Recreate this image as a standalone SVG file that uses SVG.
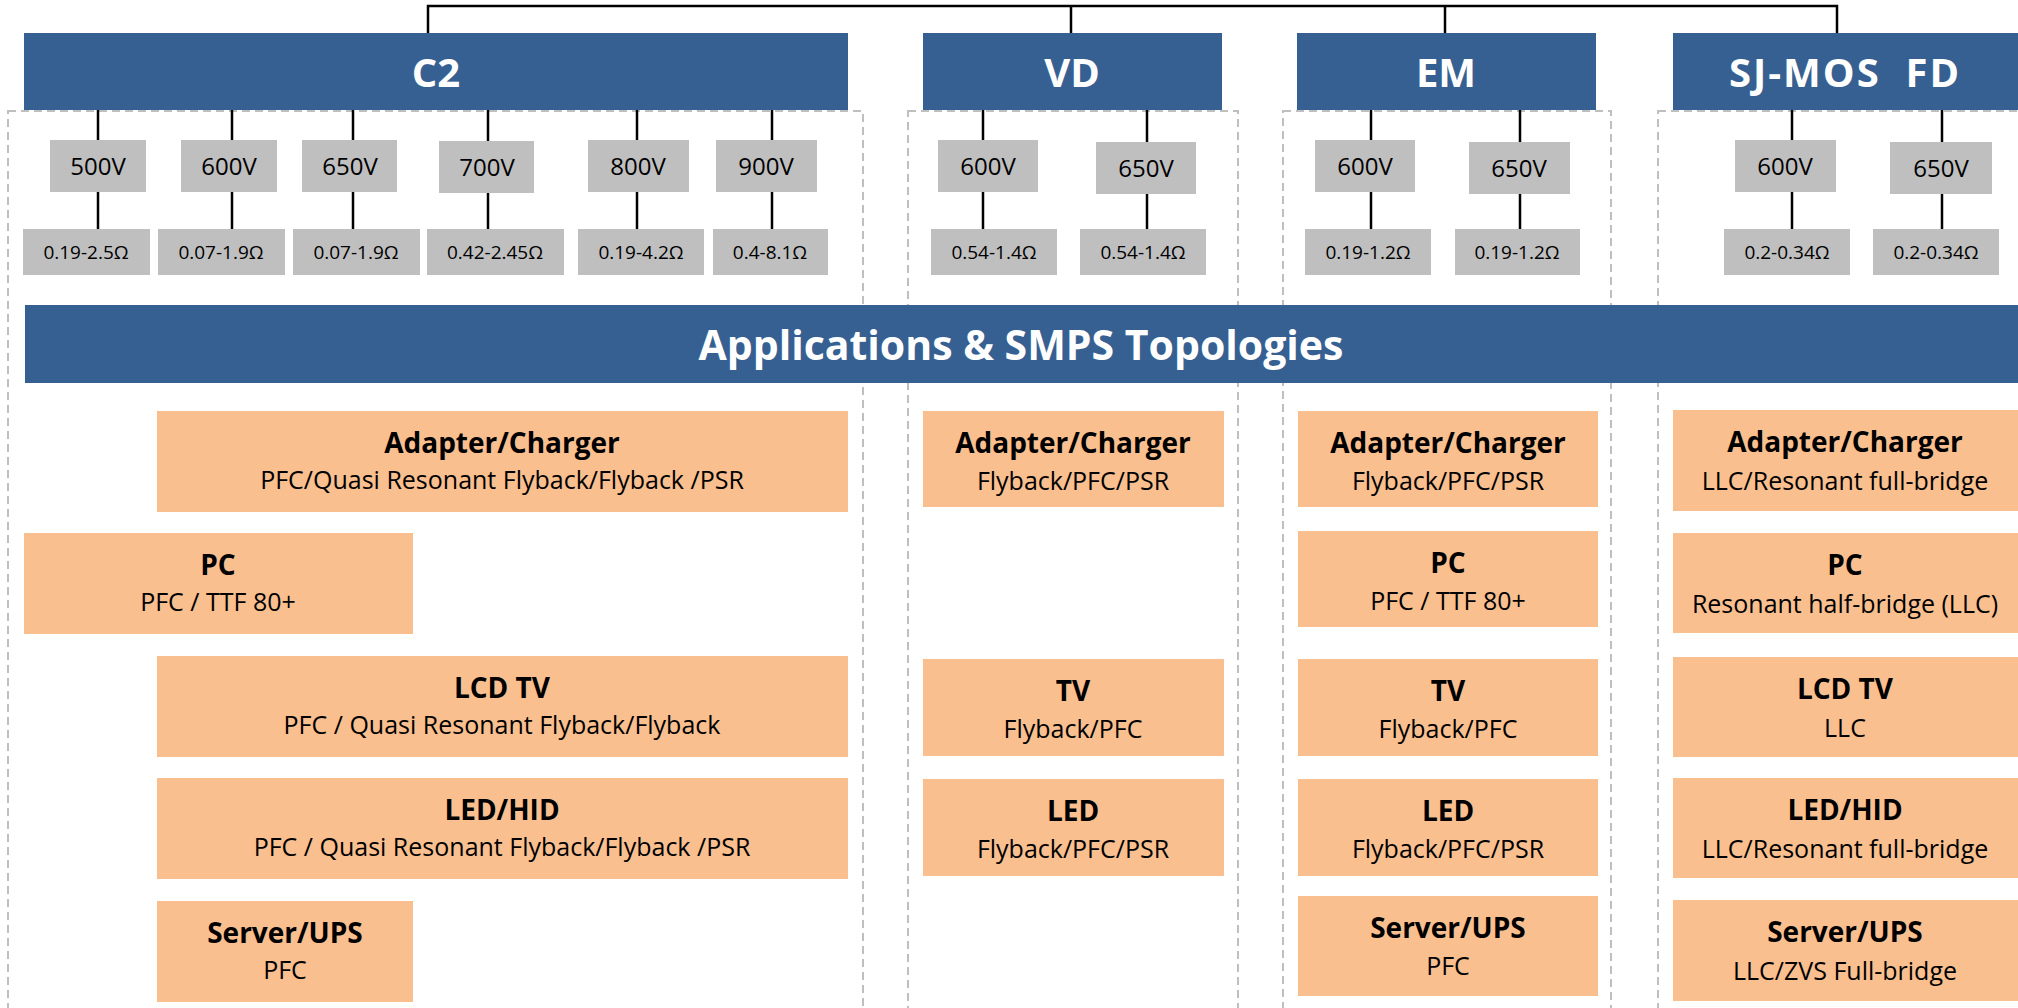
<svg xmlns="http://www.w3.org/2000/svg" width="2018" height="1008" viewBox="0 0 2018 1008">
<style>
text{font-family:"Open Sans","Noto Sans","Liberation Sans",sans-serif;text-anchor:middle}
.hdr{fill:#376092}
.hdrt{fill:#ffffff;font-weight:700;font-size:40px}
.cont{fill:none;stroke:#bfbfbf;stroke-width:2;stroke-dasharray:8 5}
.vbox{fill:#bfbfbf}
.vt{fill:#000;font-size:24px}
.rt{fill:#000;font-size:19px}
.app{fill:#f9bf8f}
.at{fill:#000;font-weight:700;font-size:28px}
.as{fill:#000;font-size:25px}
.ln{stroke:#000;stroke-width:2.5;fill:none}
</style>
<rect width="2018" height="1008" fill="#ffffff"/>

<g id="containers">
<rect class="cont" x="8" y="111" width="855" height="960"/>
<rect class="cont" x="908" y="111" width="330" height="960"/>
<rect class="cont" x="1283" y="111" width="328" height="960"/>
<rect class="cont" x="1658" y="111" width="400" height="960"/>
</g>

<g id="connectors">
<path class="ln" d="M428,33 V6 H1837 V33 M1071,6 V33 M1445,6 V33"/>
<path class="ln" d="M98,110 V140 M98,192 V229 M232,110 V140 M232,192 V229 M353,110 V140 M353,192 V229 M488,110 V141 M488,193 V229 M637,110 V140 M637,192 V229 M772,110 V140 M772,192 V229"/>
<path class="ln" d="M983,110 V140 M983,192 V229 M1147,110 V142 M1147,194 V229"/>
<path class="ln" d="M1371,110 V140 M1371,192 V229 M1520,110 V142 M1520,194 V229"/>
<path class="ln" d="M1792,110 V140 M1792,192 V229 M1942,110 V142 M1942,194 V229"/>
</g>

<g id="hdr-c2"><rect class="hdr" x="24" y="33" width="824" height="77"/><text class="hdrt" x="436" y="87">C2</text></g>
<g id="hdr-vd"><rect class="hdr" x="923" y="33" width="299" height="77"/><text class="hdrt" x="1072" y="87">VD</text></g>
<g id="hdr-em"><rect class="hdr" x="1297" y="33" width="299" height="77"/><text class="hdrt" x="1446" y="87">EM</text></g>
<g id="hdr-sj"><rect class="hdr" x="1673" y="33" width="345" height="77"/><text class="hdrt" x="1845" y="87" xml:space="preserve" style="letter-spacing:2px">SJ-MOS  FD</text></g>

<g id="c2-500"><rect class="vbox" x="50" y="140" width="96" height="52"/><text class="vt" x="98" y="175">500V</text></g>
<g id="c2-600"><rect class="vbox" x="181" y="140" width="96" height="52"/><text class="vt" x="229" y="175">600V</text></g>
<g id="c2-650"><rect class="vbox" x="302" y="140" width="95" height="52"/><text class="vt" x="350" y="175">650V</text></g>
<g id="c2-700"><rect class="vbox" x="439" y="141" width="95" height="52"/><text class="vt" x="487" y="176">700V</text></g>
<g id="c2-800"><rect class="vbox" x="588" y="140" width="101" height="52"/><text class="vt" x="638" y="175">800V</text></g>
<g id="c2-900"><rect class="vbox" x="716" y="140" width="101" height="52"/><text class="vt" x="766" y="175">900V</text></g>

<g id="c2-r500"><rect class="vbox" x="23" y="229" width="127" height="46"/><text class="rt" x="86" y="259">0.19-2.5Ω</text></g>
<g id="c2-r600"><rect class="vbox" x="158" y="229" width="127" height="46"/><text class="rt" x="221" y="259">0.07-1.9Ω</text></g>
<g id="c2-r650"><rect class="vbox" x="293" y="229" width="127" height="46"/><text class="rt" x="356" y="259">0.07-1.9Ω</text></g>
<g id="c2-r700"><rect class="vbox" x="427" y="229" width="137" height="46"/><text class="rt" x="495" y="259">0.42-2.45Ω</text></g>
<g id="c2-r800"><rect class="vbox" x="578" y="229" width="126" height="46"/><text class="rt" x="641" y="259">0.19-4.2Ω</text></g>
<g id="c2-r900"><rect class="vbox" x="713" y="229" width="115" height="46"/><text class="rt" x="770" y="259">0.4-8.1Ω</text></g>

<g id="vd-600"><rect class="vbox" x="938" y="140" width="100" height="52"/><text class="vt" x="988" y="175">600V</text></g>
<g id="vd-650"><rect class="vbox" x="1096" y="142" width="100" height="52"/><text class="vt" x="1146" y="177">650V</text></g>
<g id="vd-r600"><rect class="vbox" x="931" y="229" width="126" height="46"/><text class="rt" x="994" y="259">0.54-1.4Ω</text></g>
<g id="vd-r650"><rect class="vbox" x="1080" y="229" width="126" height="46"/><text class="rt" x="1143" y="259">0.54-1.4Ω</text></g>

<g id="em-600"><rect class="vbox" x="1315" y="140" width="100" height="52"/><text class="vt" x="1365" y="175">600V</text></g>
<g id="em-650"><rect class="vbox" x="1469" y="142" width="101" height="52"/><text class="vt" x="1519" y="177">650V</text></g>
<g id="em-r600"><rect class="vbox" x="1305" y="229" width="126" height="46"/><text class="rt" x="1368" y="259">0.19-1.2Ω</text></g>
<g id="em-r650"><rect class="vbox" x="1455" y="229" width="125" height="46"/><text class="rt" x="1517" y="259">0.19-1.2Ω</text></g>

<g id="sj-600"><rect class="vbox" x="1735" y="140" width="101" height="52"/><text class="vt" x="1785" y="175">600V</text></g>
<g id="sj-650"><rect class="vbox" x="1890" y="142" width="102" height="52"/><text class="vt" x="1941" y="177">650V</text></g>
<g id="sj-r600"><rect class="vbox" x="1724" y="229" width="126" height="46"/><text class="rt" x="1787" y="259">0.2-0.34Ω</text></g>
<g id="sj-r650"><rect class="vbox" x="1873" y="229" width="126" height="46"/><text class="rt" x="1936" y="259">0.2-0.34Ω</text></g>

<g id="apps-bar"><rect class="hdr" x="25" y="305" width="1993" height="78"/><text class="hdrt" x="1021" y="360" style="font-size:41px">Applications &amp; SMPS Topologies</text></g>

<g id="c2-adapter"><rect class="app" x="157" y="411" width="691" height="101"/><text class="at" x="502" y="453">Adapter/Charger</text><text class="as" x="502" y="489">PFC/Quasi Resonant Flyback/Flyback /PSR</text></g>
<g id="c2-pc"><rect class="app" x="24" y="533" width="389" height="101"/><text class="at" x="218" y="575">PC</text><text class="as" x="218" y="611">PFC / TTF 80+</text></g>
<g id="c2-lcdtv"><rect class="app" x="157" y="656" width="691" height="101"/><text class="at" x="502" y="698">LCD TV</text><text class="as" x="502" y="734">PFC / Quasi Resonant Flyback/Flyback</text></g>
<g id="c2-led"><rect class="app" x="157" y="778" width="691" height="101"/><text class="at" x="502" y="820">LED/HID</text><text class="as" x="502" y="856">PFC / Quasi Resonant Flyback/Flyback /PSR</text></g>
<g id="c2-server"><rect class="app" x="157" y="901" width="256" height="101"/><text class="at" x="285" y="943">Server/UPS</text><text class="as" x="285" y="979">PFC</text></g>

<g id="vd-adapter"><rect class="app" x="923" y="411" width="301" height="96"/><text class="at" x="1073" y="453">Adapter/Charger</text><text class="as" x="1073" y="490">Flyback/PFC/PSR</text></g>
<g id="vd-tv"><rect class="app" x="923" y="659" width="301" height="97"/><text class="at" x="1073" y="701">TV</text><text class="as" x="1073" y="738">Flyback/PFC</text></g>
<g id="vd-led"><rect class="app" x="923" y="779" width="301" height="97"/><text class="at" x="1073" y="821">LED</text><text class="as" x="1073" y="858">Flyback/PFC/PSR</text></g>

<g id="em-adapter"><rect class="app" x="1298" y="411" width="300" height="96"/><text class="at" x="1448" y="453">Adapter/Charger</text><text class="as" x="1448" y="490">Flyback/PFC/PSR</text></g>
<g id="em-pc"><rect class="app" x="1298" y="531" width="300" height="96"/><text class="at" x="1448" y="573">PC</text><text class="as" x="1448" y="610">PFC / TTF 80+</text></g>
<g id="em-tv"><rect class="app" x="1298" y="659" width="300" height="97"/><text class="at" x="1448" y="701">TV</text><text class="as" x="1448" y="738">Flyback/PFC</text></g>
<g id="em-led"><rect class="app" x="1298" y="779" width="300" height="97"/><text class="at" x="1448" y="821">LED</text><text class="as" x="1448" y="858">Flyback/PFC/PSR</text></g>
<g id="em-server"><rect class="app" x="1298" y="896" width="300" height="100"/><text class="at" x="1448" y="938">Server/UPS</text><text class="as" x="1448" y="975">PFC</text></g>

<g id="sj-adapter"><rect class="app" x="1673" y="410" width="345" height="101"/><text class="at" x="1845" y="452">Adapter/Charger</text><text class="as" x="1845" y="490">LLC/Resonant full-bridge</text></g>
<g id="sj-pc"><rect class="app" x="1673" y="533" width="345" height="100"/><text class="at" x="1845" y="575">PC</text><text class="as" x="1845" y="613">Resonant half-bridge (LLC)</text></g>
<g id="sj-lcdtv"><rect class="app" x="1673" y="657" width="345" height="100"/><text class="at" x="1845" y="699">LCD TV</text><text class="as" x="1845" y="737">LLC</text></g>
<g id="sj-led"><rect class="app" x="1673" y="778" width="345" height="100"/><text class="at" x="1845" y="820">LED/HID</text><text class="as" x="1845" y="858">LLC/Resonant full-bridge</text></g>
<g id="sj-server"><rect class="app" x="1673" y="900" width="345" height="101"/><text class="at" x="1845" y="942">Server/UPS</text><text class="as" x="1845" y="980">LLC/ZVS Full-bridge</text></g>
</svg>
